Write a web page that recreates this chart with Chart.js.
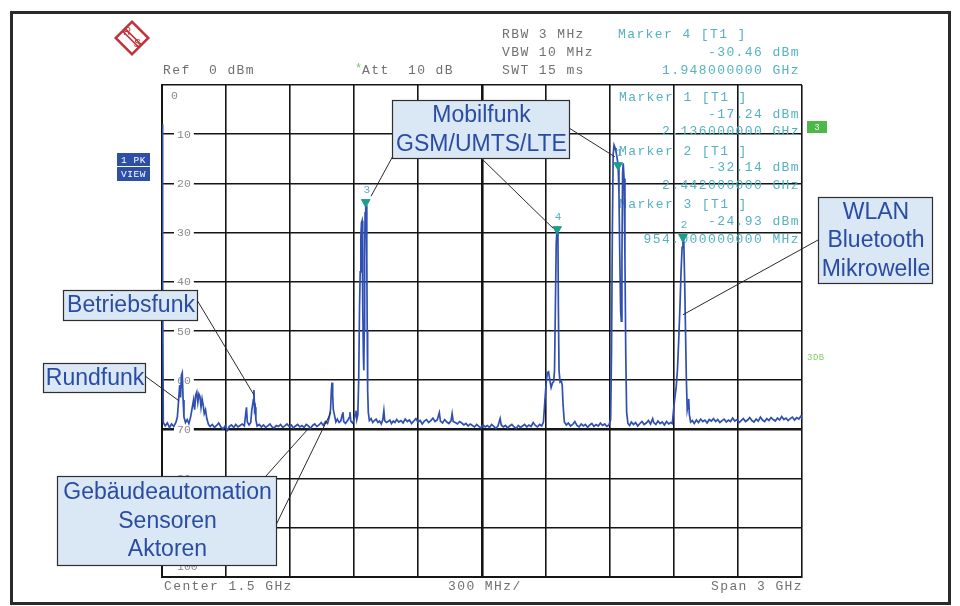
<!DOCTYPE html>
<html>
<head>
<meta charset="utf-8">
<script src="https://cdn.jsdelivr.net/npm/chart.js@4/dist/chart.umd.min.js"></script>
<style>
html,body{margin:0;padding:0;background:#fff;}
canvas{display:block;}
</style>
</head>
<body>
<canvas id="c" width="960" height="606"></canvas>
<script>
// ---------- DATA ----------
const freqMHz = [
  0, 3, 6, 15, 25, 35, 45, 55, 65, 72,
  78, 83, 87, 91, 95, 99, 103, 110, 118, 126,
  134, 142, 148, 153, 158, 163, 168, 173, 178, 183,
  188, 193, 198, 204, 210, 218, 226, 236, 246, 256,
  266, 276, 286, 296, 306, 316, 326, 336, 346, 356,
  366, 376, 386, 392, 396, 400, 408, 416, 421, 425,
  428, 431, 434, 437, 440, 446, 456, 466, 476, 486,
  496, 506, 516, 526, 536, 546, 556, 566, 576, 586,
  596, 606, 616, 626, 636, 646, 656, 666, 676, 686,
  696, 706, 716, 726, 736, 746, 756, 766, 776, 784,
  790, 794, 797, 800, 803, 808, 815, 822, 830, 838,
  845, 848, 852, 860, 870, 877, 881, 885, 893, 900,
  905, 909, 913, 918, 922, 926, 929, 932, 935, 938,
  940, 942, 944, 946, 948, 950, 952, 955, 958, 960,
  962, 964, 967, 972, 980, 988, 996, 1004, 1012, 1020,
  1028, 1035, 1040, 1044, 1052, 1060, 1068, 1076, 1084, 1092,
  1100, 1110, 1120, 1130, 1140, 1150, 1160, 1170, 1180, 1190,
  1200, 1210, 1220, 1230, 1240, 1250, 1260, 1270, 1280, 1290,
  1300, 1305, 1315, 1325, 1335, 1345, 1355, 1360, 1365, 1375,
  1385, 1395, 1405, 1415, 1425, 1435, 1445, 1455, 1465, 1475,
  1485, 1495, 1505, 1515, 1525, 1535, 1545, 1555, 1565, 1575,
  1585, 1590, 1600, 1610, 1620, 1630, 1640, 1650, 1660, 1670,
  1680, 1690, 1700, 1710, 1720, 1730, 1740, 1750, 1760, 1770,
  1780, 1788, 1795, 1800, 1806, 1812, 1818, 1824, 1830, 1836,
  1840, 1844, 1848, 1852, 1856, 1858, 1861, 1866, 1872, 1876,
  1880, 1886, 1895, 1905, 1915, 1925, 1935, 1945, 1955, 1965,
  1975, 1985, 1995, 2005, 2015, 2025, 2035, 2045, 2055, 2065,
  2075, 2085, 2095, 2103, 2107, 2111, 2115, 2119, 2124, 2128,
  2133, 2138, 2142, 2146, 2150, 2153, 2156, 2159, 2162, 2166,
  2170, 2174, 2178, 2184, 2192, 2200, 2210, 2220, 2230, 2240,
  2250, 2260, 2270, 2280, 2290, 2300, 2305, 2315, 2325, 2335,
  2345, 2355, 2365, 2375, 2385, 2392, 2398, 2404, 2410, 2416,
  2422, 2428, 2433, 2438, 2442, 2446, 2450, 2454, 2458, 2462,
  2466, 2469, 2472, 2478, 2486, 2495, 2505, 2515, 2525, 2535,
  2545, 2555, 2565, 2575, 2585, 2595, 2605, 2615, 2625, 2635,
  2645, 2655, 2665, 2675, 2685, 2695, 2705, 2715, 2725, 2735,
  2745, 2755, 2765, 2775, 2785, 2795, 2805, 2815, 2825, 2835,
  2845, 2855, 2865, 2875, 2885, 2895, 2905, 2915, 2925, 2935,
  2945, 2955, 2965, 2975, 2985, 2995, 3000
];
const levelDbm = [
  -8, -40, -68.6, -69.3, -68.7, -69.6, -68.9, -69.4, -68.6, -67.5,
  -64, -61, -63.5, -59, -58.5, -64, -67.5, -68.6, -68, -68.8,
  -67.5, -65.5, -64, -66, -63, -62.4, -64.5, -62.8, -63.3, -65.5,
  -63.8, -65, -66.8, -66, -67.8, -69, -69.4, -69, -69.6, -69.2,
  -68.7, -69.5, -69.9, -69.3, -70.2, -69.4, -69.1, -69.6, -69.0, -69.5,
  -69.2, -68.9, -69.3, -67, -65.5, -68.5, -69.1, -68.6, -66, -65,
  -64, -62, -66, -65.5, -68, -69.3, -69.0, -69.5, -69.1, -69.6,
  -69.3, -68.9, -69.5, -69.7, -69.2, -69.4, -69.0, -69.6, -69.3, -68.9,
  -69.4, -69.1, -69.7, -69.3, -69.0, -69.5, -69.2, -69.6, -69.0, -69.3,
  -69.8, -69.2, -68.9, -69.4, -69.1, -68.6, -69.2, -68.4, -68.8, -67.5,
  -66, -62, -60.5, -63, -66, -67, -68.5, -67.9, -68.6, -68.3,
  -67, -66.5, -68.4, -68.8, -68.2, -67.6, -66.5, -68.3, -68.7, -68.1,
  -67, -66.2, -68, -67, -60, -45, -38, -31, -28, -27.6,
  -33, -45, -55, -58, -50, -35, -26, -23.8, -24.5, -35,
  -50, -62, -66.5, -68.2, -67.8, -68.6, -68.2, -67.9, -68.6, -68.3,
  -68.9, -68.0, -66.2, -68.2, -68.6, -68.4, -68.1, -68.8, -68.3, -68.6,
  -68.0, -68.5, -68.2, -68.7, -67.9, -68.4, -68.1, -68.8, -68.3, -67.8,
  -68.5, -68.2, -68.9, -68.3, -68.0, -68.6, -68.2, -67.7, -68.4, -68.1,
  -66.6, -68.3, -68.7, -68.0, -68.5, -68.8, -68.2, -66.8, -68.4, -68.6,
  -68.9, -68.4, -68.7, -69.1, -68.8, -69.3, -68.9, -69.2, -69.5, -69.0,
  -69.4, -69.7, -69.1, -69.5, -69.2, -69.6, -69.0, -69.4, -69.8, -69.3,
  -67.8, -69.1, -69.5, -69.2, -69.7, -69.3, -69.0, -69.5, -69.8, -69.2,
  -69.6, -69.3, -69.0, -69.5, -69.1, -69.4, -68.6, -69.2, -69.5, -69.0,
  -69.3, -68.5, -64, -61, -58.5, -58.3, -60, -61.5, -60.6, -60.3,
  -58, -45, -32, -29.3, -31, -45, -58, -60.4, -60.2, -61,
  -65, -68.5, -69.1, -68.7, -69.3, -69.0, -68.4, -69.2, -69.5, -68.9,
  -69.3, -69.0, -69.6, -69.1, -68.8, -69.4, -69.0, -69.3, -68.7, -69.2,
  -68.9, -69.4, -69.1, -68, -55, -30, -14, -12.2, -12.8, -13.5,
  -14.8, -16.3, -22, -35, -46, -48, -35, -18, -15.9, -19,
  -35, -55, -66.5, -68.8, -69.2, -68.5, -69.0, -68.6, -69.3, -68.8,
  -68.4, -69.0, -68.7, -68.2, -68.9, -67.8, -68.6, -69.0, -68.3, -68.8,
  -68.5, -69.1, -68.4, -68.9, -68.6, -68.8, -66, -63.5, -61.5, -58,
  -52, -45, -38, -33, -30.9, -32, -40, -50, -60, -66,
  -65, -63.8, -67, -68.5, -68.2, -68.8, -68.1, -68.6, -67.9, -68.4,
  -68.1, -68.7, -68.0, -68.3, -67.8, -68.4, -68.0, -68.6, -68.2, -67.9,
  -68.5, -68.1, -68.4, -67.7, -68.3, -68.0, -68.6, -68.2, -67.8, -68.4,
  -68.1, -67.6, -68.2, -68.5, -67.9, -68.3, -67.5, -68.1, -68.4, -67.8,
  -68.2, -67.6, -68.0, -68.3, -67.7, -68.1, -67.4, -68.0, -67.7, -68.2,
  -67.8, -67.5, -68.1, -67.6, -67.9, -67.3, -67.8
];
const markerFreq  = [955, 1852, 2138, 2442];
const markerLevel = [-23.8, -29.3, -16.3, -30.9];
const markerNum   = ['3', '4', '1', '2'];
const yTickLabels = ['0','10','20','30','40','50','60','70','80','90','100'];
const headerLeft  = ['Ref  0 dBm'];
const headerAtt   = 'Att  10 dB';
const headerSettings = ['RBW 3 MHz', 'VBW 10 MHz', 'SWT 15 ms'];
const markerTexts = [
  ['Marker 4 [T1 ]', '-30.46 dBm', '1.948000000 GHz'],
  ['Marker 1 [T1 ]', '-17.24 dBm', '2.136000000 GHz'],
  ['Marker 2 [T1 ]', '-32.14 dBm', '2.442000000 GHz'],
  ['Marker 3 [T1 ]', '-24.93 dBm', '954.000000000 MHz']
];
const footerTexts = ['Center 1.5 GHz', '300 MHz/', 'Span 3 GHz'];
const annoLabels = [
  ['Mobilfunk', 'GSM/UMTS/LTE'],
  ['WLAN', 'Bluetooth', 'Mikrowelle'],
  ['Betriebsfunk'],
  ['Rundfunk'],
  ['Gebäudeautomation', 'Sensoren', 'Aktoren']
];
// leader targets in data coordinates [MHz, dBm]
const leaderTargets = [
  [[980, -22.6], [1833, -29.1], [2123, -14.6]],
  [[2442, -46.7]],
  [[431, -63]],
  [[80, -64.2]],
  [[792, -66.5], [689, -69.7]]
];

// ---------- LAYOUT / STYLE ----------
const boxLayout = [
  {x0:392, y0:100, x1:569, y1:158, starts:[[394,154],[481,158],[569,128]]},
  {x0:818, y0:197, x1:932, y1:283, starts:[[818,240]]},
  {x0:63,  y0:290, x1:197, y1:320, starts:[[197,300]]},
  {x0:43,  y0:363, x1:145, y1:392, starts:[[145,376]]},
  {x0:57,  y0:476, x1:276, y1:565, starts:[[276,525],[266,476]]}
];
const GRAY = '#707070';
const TEAL = '#55b2c0';
const TRACE = '#2f4fb2';
const MONO = '"Liberation Mono", "DejaVu Sans Mono", monospace';

const n = Math.min(freqMHz.length, levelDbm.length);
const traceData = [];
for (let i = 0; i < n; i++) traceData.push({x: freqMHz[i], y: levelDbm[i]});
const markerData = markerFreq.map((f, i) => ({x: f, y: markerLevel[i]}));

function mono(ctx, s, x, y, align, color, size, spacing) {
  ctx.save();
  ctx.font = size + 'px ' + MONO;
  if ('letterSpacing' in ctx) ctx.letterSpacing = spacing + 'px';
  ctx.textAlign = align;
  ctx.textBaseline = 'middle';
  ctx.fillStyle = color;
  ctx.fillText(s, x, y);
  ctx.restore();
}

const decor = {
  id: 'decor',
  beforeDraw(chart) {
    const ctx = chart.ctx;
    ctx.save();
    ctx.fillStyle = '#fff';
    ctx.fillRect(0, 0, chart.width, chart.height);
    ctx.strokeStyle = '#2a2a2a';
    ctx.lineWidth = 3;
    ctx.strokeRect(11.5, 12.5, 938, 591);
    ctx.restore();
  },
  beforeDatasetsDraw(chart) {
    const ctx = chart.ctx;
    const ys = chart.scales.y;
    const left = chart.chartArea.left;
    ctx.save();
    ctx.font = '11.5px ' + MONO;
    ctx.textBaseline = 'middle';
    ctx.textAlign = 'left';
    yTickLabels.forEach((t, i) => {
      if (i === 0) {
        ctx.fillStyle = '#8a8a8a';
        ctx.fillText(t, left + 9, ys.getPixelForValue(0) + 11);
        return;
      }
      if (i === yTickLabels.length - 1) {
        ctx.fillStyle = '#8a8a8a';
        ctx.fillText(t, left + 15, ys.getPixelForValue(-100) - 10);
        return;
      }
      const py = ys.getPixelForValue(-i * 10);
      const w = ctx.measureText(t).width;
      ctx.fillStyle = '#fff';
      ctx.fillRect(left + 12, py - 4, w + 6, 8);
      ctx.fillStyle = '#8a8a8a';
      ctx.fillText(t, left + 15, py + 0.5);
    });
    ctx.restore();
    const rows = [[98, 115, 132], [152, 168, 186], [205, 222, 240]];
    for (let k = 1; k < markerTexts.length; k++) {
      const r = rows[k - 1];
      mono(ctx, markerTexts[k][0], 619, r[0], 'left', TEAL, 13, 1.4);
      mono(ctx, markerTexts[k][1], 800, r[1], 'right', TEAL, 13, 1.4);
      mono(ctx, markerTexts[k][2], 800, r[2], 'right', TEAL, 13, 1.4);
    }
  },
  afterDatasetsDraw(chart) {
    const ctx = chart.ctx;
    const xs = chart.scales.x, ys = chart.scales.y;
    ctx.save();
    ctx.font = '11px ' + MONO;
    ctx.textAlign = 'center';
    ctx.textBaseline = 'middle';
    ctx.fillStyle = TEAL;
    markerFreq.forEach((f, i) => {
      ctx.fillText(markerNum[i], xs.getPixelForValue(f) + 1, ys.getPixelForValue(markerLevel[i]) - 12);
    });
    ctx.restore();

    mono(ctx, headerLeft[0], 163, 71, 'left', GRAY, 13, 1.4);
    mono(ctx, '*', 355, 69, 'left', '#7cc46a', 12, 0);
    mono(ctx, headerAtt, 362, 71, 'left', GRAY, 13, 1.4);
    headerSettings.forEach((t, i) => mono(ctx, t, 502, 35 + i * 18, 'left', GRAY, 13, 1.4));
    mono(ctx, markerTexts[0][0], 618, 35, 'left', TEAL, 13, 1.4);
    mono(ctx, markerTexts[0][1], 800, 53, 'right', TEAL, 13, 1.4);
    mono(ctx, markerTexts[0][2], 800, 71, 'right', TEAL, 13, 1.4);
    mono(ctx, footerTexts[0], 164, 587, 'left', GRAY, 13, 1.4);
    mono(ctx, footerTexts[1], 448, 587, 'left', GRAY, 13, 1.4);
    mono(ctx, footerTexts[2], 803, 587, 'right', GRAY, 13, 1.4);

    ctx.save();
    ctx.fillStyle = '#2d4fa6';
    ctx.fillRect(117, 153, 33, 13);
    ctx.fillRect(117, 167, 33, 14);
    ctx.restore();
    mono(ctx, '1 PK', 133.5, 160, 'center', '#fff', 9.5, 0.5);
    mono(ctx, 'VIEW', 133.5, 174, 'center', '#fff', 9.5, 0.5);
    ctx.save();
    ctx.fillStyle = '#4cb84a';
    ctx.fillRect(807, 121, 20, 12);
    ctx.restore();
    mono(ctx, '3', 817, 127.5, 'center', '#e8f8e0', 9, 0);
    mono(ctx, '3DB', 807, 358, 'left', '#86cf6e', 9, 0.5);

    ctx.save();
    ctx.translate(132, 38);
    ctx.rotate(Math.PI / 4);
    ctx.strokeStyle = '#c2323a';
    ctx.lineWidth = 2.5;
    ctx.strokeRect(-11.5, -11.5, 23, 23);
    ctx.lineWidth = 1.5;
    ctx.beginPath();
    ctx.moveTo(-11.5, -1.8); ctx.lineTo(11.5, -1.8);
    ctx.moveTo(-11.5, 1.8); ctx.lineTo(11.5, 1.8);
    ctx.stroke();
    ctx.restore();
    ctx.save();
    ctx.fillStyle = '#c2323a';
    ctx.font = 'italic 10px "Liberation Sans", Arial, sans-serif';
    ctx.textAlign = 'center';
    ctx.textBaseline = 'middle';
    ctx.fillText('R', 127, 32);
    ctx.fillText('S', 137, 44);
    ctx.restore();

    ctx.save();
    ctx.strokeStyle = '#2a2a2a';
    ctx.lineWidth = 1;
    boxLayout.forEach((b, i) => {
      leaderTargets[i].forEach((t, j) => {
        const s = b.starts[j];
        ctx.beginPath();
        ctx.moveTo(s[0], s[1]);
        ctx.lineTo(xs.getPixelForValue(t[0]), ys.getPixelForValue(t[1]));
        ctx.stroke();
      });
    });
    ctx.restore();

    boxLayout.forEach((b, i) => {
      ctx.save();
      ctx.fillStyle = '#dae7f5';
      ctx.fillRect(b.x0, b.y0, b.x1 - b.x0, b.y1 - b.y0);
      ctx.strokeStyle = '#2f2f2f';
      ctx.lineWidth = 1.2;
      ctx.strokeRect(b.x0 + 0.5, b.y0 + 0.5, b.x1 - b.x0, b.y1 - b.y0);
      ctx.fillStyle = '#2b4ca3';
      ctx.font = '23px "Liberation Sans", Arial, sans-serif';
      ctx.textAlign = 'center';
      ctx.textBaseline = 'middle';
      const lines = annoLabels[i];
      const lh = 28.5;
      const cy = (b.y0 + b.y1) / 2 + 1;
      const cx = (b.x0 + b.x1) / 2 + 1;
      lines.forEach((t, k) => {
        ctx.fillText(t, cx, cy + (k - (lines.length - 1) / 2) * lh);
      });
      ctx.restore();
    });
  }
};

new Chart(document.getElementById('c'), {
  type: 'line',
  data: {
    datasets: [
      {
        label: 'marker',
        data: markerData,
        showLine: false,
        pointStyle: 'triangle',
        rotation: 180,
        pointRadius: 5,
        backgroundColor: '#1d9c8e',
        borderColor: '#1d9c8e',
        borderWidth: 1,
        order: 0
      },
      {
        label: 'trace',
        data: traceData,
        borderColor: TRACE,
        borderWidth: 1.7,
        pointRadius: 0,
        tension: 0,
        fill: false,
        order: 1
      }
    ]
  },
  options: {
    responsive: false,
    devicePixelRatio: 1,
    animation: false,
    events: [],
    layout: { padding: { left: 162, right: 158, top: 85, bottom: 29 } },
    plugins: { legend: { display: false }, tooltip: { enabled: false }, title: { display: false } },
    scales: {
      x: {
        type: 'linear',
        min: 0, max: 3000,
        ticks: { display: false, stepSize: 300 },
        grid: {
          drawTicks: false,
          color: '#151515',
          lineWidth: (c) => (c.tick && c.tick.value === 1500) ? 2.6 : 1.6
        },
        border: { display: true, color: '#151515', width: 2 }
      },
      y: {
        type: 'linear',
        min: -100, max: 0,
        ticks: { display: false, stepSize: 10 },
        grid: {
          drawTicks: false,
          color: '#151515',
          lineWidth: (c) => (c.tick && c.tick.value === -70) ? 2.6 : 1.6
        },
        border: { display: true, color: '#151515', width: 2 }
      }
    }
  },
  plugins: [decor]
});
</script>
</body>
</html>
